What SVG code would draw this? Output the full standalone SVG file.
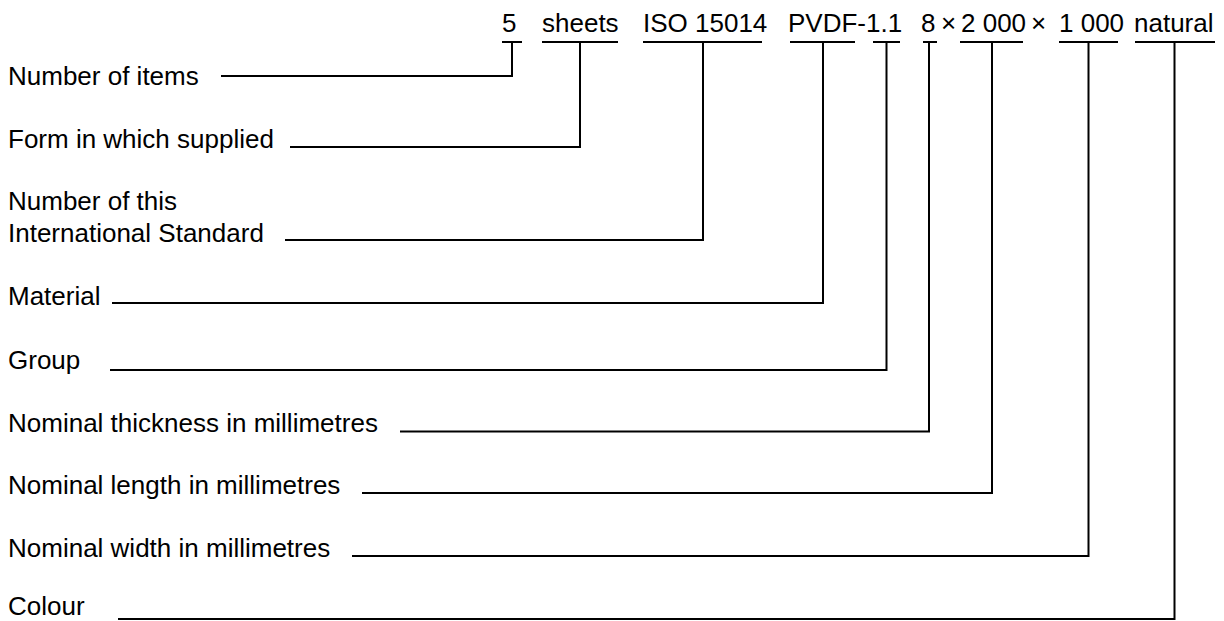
<svg xmlns="http://www.w3.org/2000/svg" width="1224" height="621" viewBox="0 0 1224 621">
<style>
text{font-family:"Liberation Sans",Arial,sans-serif;font-size:26px;fill:#000}
.u,.c{stroke:#000;stroke-width:2;fill:none}
</style>
<rect width="1224" height="621" fill="#fff"/>
<g id="designation">
<g id="t-items"><text x="502" y="32">5</text><line class="u" x1="502" y1="42" x2="522" y2="42"/></g>
<g id="t-form"><text x="542" y="32">sheets</text><line class="u" x1="542" y1="42" x2="618" y2="42"/></g>
<g id="t-std"><text x="643" y="32">ISO 15014</text><line class="u" x1="643" y1="42" x2="762" y2="42"/></g>
<g id="t-mat"><text x="788" y="32">PVDF-1.1</text><line class="u" x1="790" y1="42" x2="855" y2="42"/></g>
<g id="t-group"><line class="u" x1="873" y1="42" x2="900" y2="42"/></g>
<g id="t-thick"><text x="921" y="32">8</text><line class="u" x1="923" y1="42" x2="937" y2="42"/></g>
<text x="941" y="32">×</text>
<g id="t-len"><text x="961" y="32">2 000</text><line class="u" x1="960" y1="42" x2="1023" y2="42"/></g>
<text x="1031" y="32">×</text>
<g id="t-wid"><text x="1059" y="32">1 000</text><line class="u" x1="1059" y1="42" x2="1118" y2="42"/></g>
<g id="t-col"><text x="1134" y="32">natural</text><line class="u" x1="1135" y1="42" x2="1215" y2="42"/></g>
</g>
<g id="l-items"><text x="8" y="84.5">Number of items</text></g>
<g id="l-form"><text x="8" y="147.5">Form in which supplied</text></g>
<g id="l-std"><text x="8" y="209.5">Number of this</text><text x="8" y="241.5">International Standard</text></g>
<g id="l-mat"><text x="8" y="305">Material</text></g>
<g id="l-group"><text x="8" y="368.5">Group</text></g>
<g id="l-thick"><text x="8" y="431.5">Nominal thickness in millimetres</text></g>
<g id="l-len"><text x="8" y="494">Nominal length in millimetres</text></g>
<g id="l-wid"><text x="8" y="557">Nominal width in millimetres</text></g>
<g id="l-col"><text x="8" y="615">Colour</text></g>
<g id="connectors">
<polyline class="c" points="221,76 512,76 512,42"/>
<polyline class="c" points="290,147 580,147 580,42"/>
<polyline class="c" points="285,240 703,240 703,42"/>
<polyline class="c" points="112,303 823,303 823,42"/>
<polyline class="c" points="110,370 886.5,370 886.5,42"/>
<polyline class="c" points="400,431.5 929,431.5 929,42"/>
<polyline class="c" points="362,493 992,493 992,42"/>
<polyline class="c" points="352,556 1088.5,556 1088.5,42"/>
<polyline class="c" points="118,619 1174.5,619 1174.5,42"/>
</g>
</svg>
